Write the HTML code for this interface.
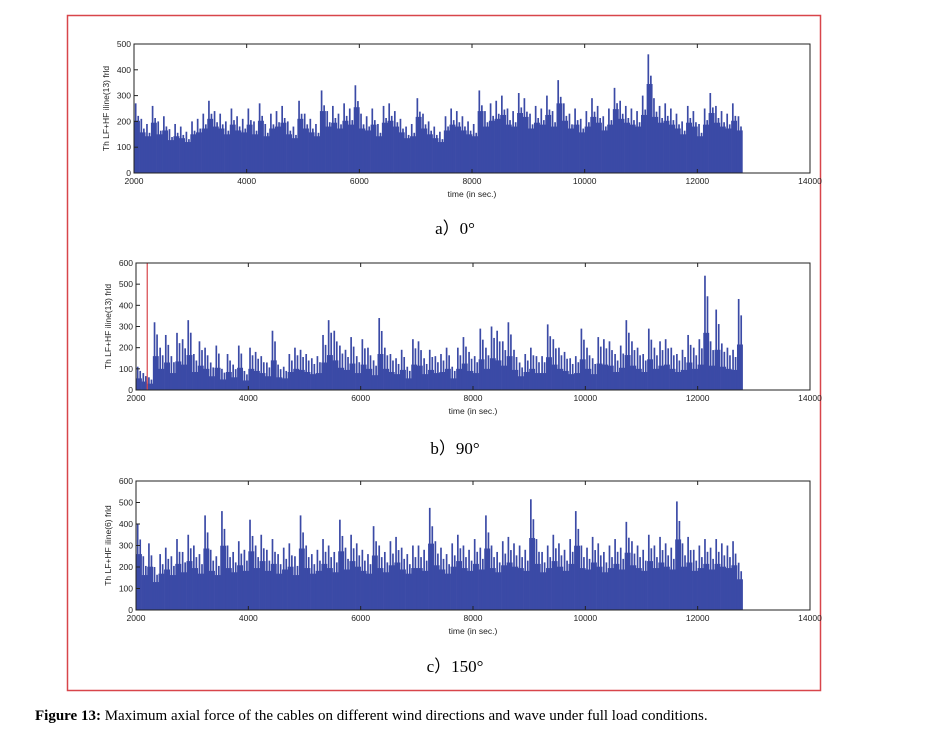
<!DOCTYPE html>
<html><head><meta charset="utf-8"><style>
body{margin:0;background:#fff;width:934px;height:735px;overflow:hidden;font-family:"Liberation Sans",sans-serif}
svg{position:absolute;left:0;top:0}
</style></head><body>
<svg width="934" height="735">
<rect x="67.5" y="15.5" width="753" height="675" fill="none" stroke="#d8454a" stroke-width="1.5"/>
<g id="charts"></g>
<text x="455" y="234" text-anchor="middle" font-family="Liberation Serif,serif" font-size="17">a）0°</text>
<text x="455" y="454" text-anchor="middle" font-family="Liberation Serif,serif" font-size="17">b）90°</text>
<text x="455" y="672" text-anchor="middle" font-family="Liberation Serif,serif" font-size="17">c）150°</text>
<text x="35" y="720" font-family="Liberation Serif,serif" font-size="15"><tspan font-weight="bold">Figure 13:</tspan> Maximum axial force of the cables on different wind directions and wave under full load conditions.</text>
</svg>
<script>
const xTicks=[2000,4000,6000,8000,10000,12000,14000];
const yTicksA=[0,100,200,300,400,500];
const yTicksB=[0,100,200,300,400,500,600];
const yTicksC=[0,100,200,300,400,500,600];
const tStart=2000, tStep=100;
const valuesA=[270,210,190,260,200,220,170,190,180,160,200,210,230,280,240,230,200,250,220,210,250,200,270,190,230,240,260,200,180,280,230,210,190,320,240,260,230,270,250,340,230,220,250,190,260,270,240,210,180,190,290,230,200,180,160,220,250,240,220,200,190,320,240,270,280,300,250,240,310,290,230,260,250,300,240,360,270,230,250,210,240,290,260,220,250,330,280,260,250,240,300,460,290,260,270,250,230,200,260,240,190,250,310,260,240,230,270,220];
const valuesB=[110,80,60,320,200,260,160,270,240,330,170,230,200,130,210,100,170,120,210,90,200,180,160,130,280,120,110,170,200,190,170,150,160,260,330,280,210,190,250,160,240,200,140,340,200,170,150,190,110,240,230,150,190,160,170,200,110,200,250,180,160,290,200,300,280,230,320,190,130,170,200,160,160,310,240,200,180,150,160,290,200,150,250,240,230,170,210,330,230,200,170,290,200,230,240,200,170,190,260,200,240,540,230,380,220,200,190,430];
const valuesC=[400,250,310,200,260,290,250,330,270,350,300,260,440,280,250,460,300,270,320,280,420,300,350,280,330,260,290,310,250,440,300,260,280,330,300,270,420,290,350,310,280,260,390,300,270,320,340,290,260,300,300,280,475,320,290,260,310,350,300,280,330,290,440,300,270,320,340,310,300,280,515,330,270,300,350,310,280,330,460,300,290,340,310,270,300,330,290,410,320,300,280,350,300,340,310,290,505,310,340,280,300,330,290,330,310,300,320,220];
const NS='http://www.w3.org/2000/svg';
const root=document.getElementById('charts');
const COL='#3b4aa6';
function mk(tag,attrs,parent){const e=document.createElementNS(NS,tag);for(const k in attrs)e.setAttribute(k,attrs[k]);parent.appendChild(e);return e;}
function chart(id,x0,x1,y0,y1,ymax,yt,vals,ylabel,redLine,baseFrac){
 const g=mk('g',{},root);
 
 
 const sx=v=>x0+(v-2000)/12000*(x1-x0);
 const sy=v=>y1-v/ymax*(y1-y0);
 const w=sx(tStart+tStep)-sx(tStart);
 vals.forEach((v,i)=>{
  const t=tStart+i*tStep;
  const bv=v*baseFrac;
  const b=mk('rect',{x:sx(t),y:sy(bv),width:w+0.3,height:y1-sy(bv),fill:COL},g);
  
  
  const s=mk('rect',{x:sx(t)+w*0.15,y:sy(v),width:w*0.3,height:y1-sy(v),fill:COL},g);
  
  
  const s2=mk('rect',{x:sx(t)+w*0.6,y:sy(v*0.82),width:w*0.3,height:y1-sy(v*0.82),fill:COL},g);
  
  
 });
 if(redLine){const r=mk('line',{x1:sx(redLine),x2:sx(redLine),y1:y0,y2:y1,stroke:'#d8454a','stroke-width':1.2},g);
  
  }
 const fr=mk('rect',{x:x0,y:y0,width:x1-x0,height:y1-y0,fill:'none',stroke:'#222','stroke-width':1},g);
 
 
 xTicks.forEach(t=>{
  mk('line',{x1:sx(t),x2:sx(t),y1:y1,y2:y1-4,stroke:'#222'},g);
  mk('line',{x1:sx(t),x2:sx(t),y1:y0,y2:y0+4,stroke:'#222'},g);
  const l=mk('text',{x:sx(t),y:y1+11,'text-anchor':'middle','font-size':8.5,fill:'#222'},g);l.textContent=t;
  
  
 });
 yt.forEach(t=>{
  mk('line',{x1:x0,x2:x0+4,y1:sy(t),y2:sy(t),stroke:'#222'},g);
  const l=mk('text',{x:x0-3,y:sy(t)+3,'text-anchor':'end','font-size':8.5,fill:'#222'},g);l.textContent=t;
  
  
 });
 const xl=mk('text',{x:(x0+x1)/2,y:y1+24,'text-anchor':'middle','font-size':8.5,fill:'#222'},g);xl.textContent='time (in sec.)';
 
 
 const yl=mk('text',{x:0,y:0,'text-anchor':'middle','font-size':8.5,fill:'#222',transform:`translate(${x0-25},${(y0+y1)/2}) rotate(-90)`},g);yl.textContent=ylabel;
 
 
}
chart('chart-0deg',134,810,44,173,500,yTicksA,valuesA,'Th LF+HF iline(13) frld',null,0.75);
chart('chart-90deg',136,810,263,390,600,yTicksB,valuesB,'Th LF+HF iline(13) frld',2200,0.5);
chart('chart-150deg',136,810,481,610,600,yTicksC,valuesC,'Th LF+HF iline(6) frld',null,0.65);
</script>
</body></html>
